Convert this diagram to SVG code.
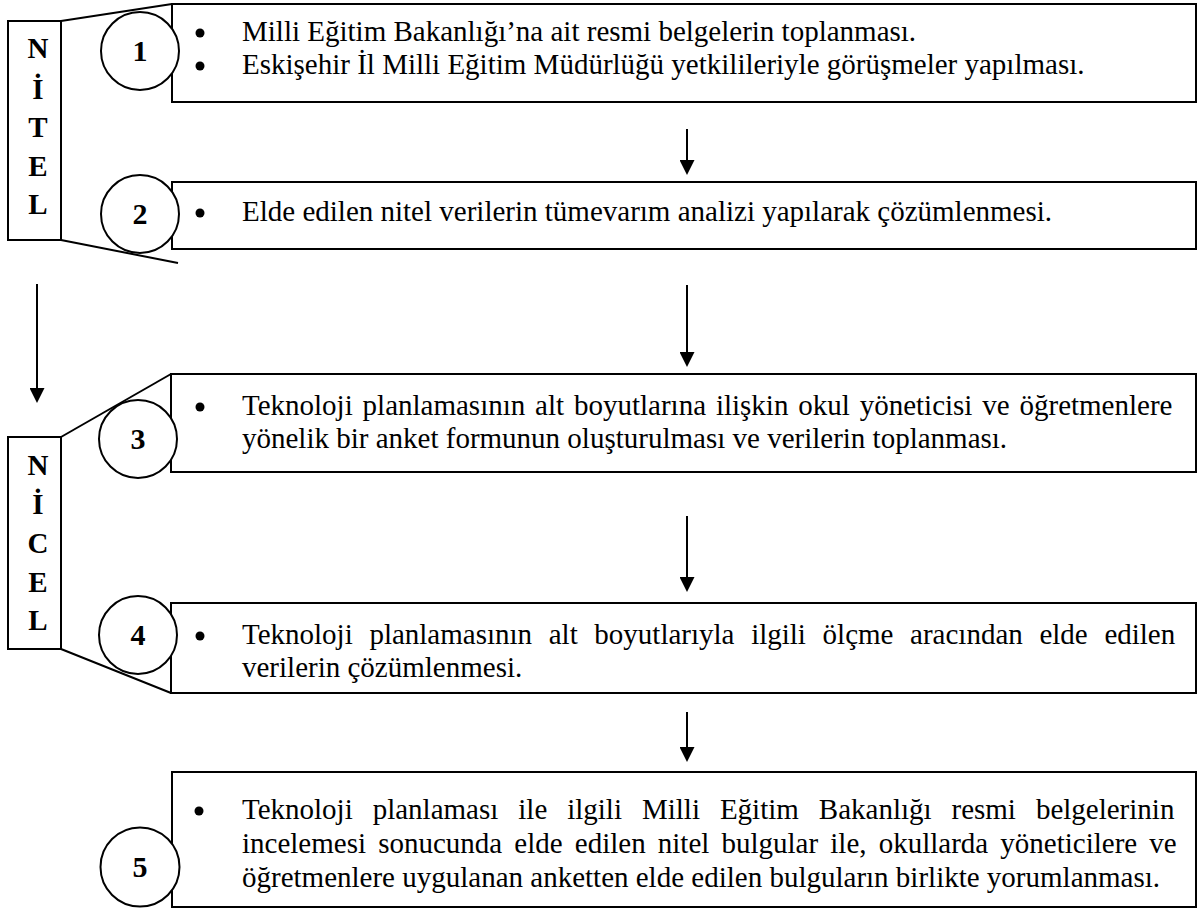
<svg xmlns="http://www.w3.org/2000/svg" width="1200" height="910" viewBox="0 0 1200 910">
<defs>
<style>
.box{fill:#fff;stroke:#000;stroke-width:2}
.circ{fill:#fff;stroke:#000;stroke-width:2}
.ln{fill:none;stroke:#000;stroke-width:2}
.t{font-family:"Liberation Serif","Times New Roman",serif;font-size:29px;fill:#000}
.b{font-family:"Liberation Serif","Times New Roman",serif;font-size:29px;font-weight:bold;fill:#000;text-anchor:middle}
.n{font-family:"Liberation Serif","Times New Roman",serif;font-size:30px;font-weight:bold;fill:#000;text-anchor:middle}
.dot{fill:#000}
</style>
<marker id="ah" viewBox="0 0 15 15" refX="0" refY="7.5" markerWidth="15" markerHeight="15" markerUnits="userSpaceOnUse" orient="auto">
<path d="M0,0 L15,7.5 L0,15 z" fill="#000"/>
</marker>
</defs>
<rect width="1200" height="910" fill="#fff"/>

<g id="connectors">
<line class="ln" x1="61" y1="21" x2="172" y2="4"/>
<line class="ln" x1="61" y1="240" x2="178" y2="263"/>
<line class="ln" x1="61" y1="437" x2="171" y2="374"/>
<line class="ln" x1="61" y1="649" x2="171" y2="693"/>
<line class="ln" x1="687" y1="129" x2="687" y2="160" marker-end="url(#ah)"/>
<line class="ln" x1="687" y1="285" x2="687" y2="352" marker-end="url(#ah)"/>
<line class="ln" x1="687" y1="516" x2="687" y2="577" marker-end="url(#ah)"/>
<line class="ln" x1="687" y1="712" x2="687" y2="747" marker-end="url(#ah)"/>
<line class="ln" x1="37" y1="284" x2="37" y2="388" marker-end="url(#ah)"/>
</g>

<g id="nitel">
<rect class="box" x="8" y="21" width="53" height="219"/>
<text class="b" x="38" y="58">N</text>
<text class="b" x="38" y="99">İ</text>
<text class="b" x="38" y="137">T</text>
<text class="b" x="38" y="176">E</text>
<text class="b" x="38" y="214">L</text>
</g>

<g id="nicel">
<rect class="box" x="8" y="437" width="53" height="212"/>
<text class="b" x="38" y="475">N</text>
<text class="b" x="38" y="514">İ</text>
<text class="b" x="38" y="553">C</text>
<text class="b" x="38" y="592">E</text>
<text class="b" x="38" y="630">L</text>
</g>

<g id="step1">
<rect class="box" x="172" y="4" width="1024" height="98"/>
<circle class="circ" cx="140" cy="51" r="39"/>
<text class="n" x="140" y="61">1</text>
<circle class="dot" cx="200" cy="33" r="4.5"/>
<circle class="dot" cx="200" cy="66" r="4.5"/>
<text class="t" x="242" y="41">Milli Eğitim Bakanlığı’na ait resmi belgelerin toplanması.</text>
<text class="t" x="242" y="74">Eskişehir İl Milli Eğitim Müdürlüğü yetkilileriyle görüşmeler yapılması.</text>
</g>

<g id="step2">
<rect class="box" x="172" y="182" width="1024" height="67"/>
<circle class="circ" cx="140" cy="214" r="39"/>
<text class="n" x="140" y="224">2</text>
<circle class="dot" cx="200" cy="213" r="4.5"/>
<text class="t" x="242" y="221">Elde edilen nitel verilerin tümevarım analizi yapılarak çözümlenmesi.</text>
</g>

<g id="step3">
<rect class="box" x="171" y="374" width="1025" height="98"/>
<circle class="circ" cx="138" cy="439" r="39"/>
<text class="n" x="138" y="449">3</text>
<circle class="dot" cx="200" cy="407" r="4.5"/>
<text class="t" x="242" y="415" word-spacing="2.6">Teknoloji planlamasının alt boyutlarına ilişkin okul yöneticisi ve öğretmenlere</text>
<text class="t" x="242" y="448">yönelik bir anket formunun oluşturulması ve verilerin toplanması.</text>
</g>

<g id="step4">
<rect class="box" x="171" y="603" width="1025" height="90"/>
<circle class="circ" cx="138" cy="635" r="39"/>
<text class="n" x="138" y="645">4</text>
<circle class="dot" cx="200" cy="636" r="4.5"/>
<text class="t" x="242" y="644" word-spacing="9.4">Teknoloji planlamasının alt boyutlarıyla ilgili ölçme aracından elde edilen</text>
<text class="t" x="242" y="677">verilerin çözümlenmesi.</text>
</g>

<g id="step5">
<rect class="box" x="172" y="772" width="1024" height="135"/>
<circle class="circ" cx="140" cy="867" r="39.5"/>
<text class="n" x="140" y="877">5</text>
<circle class="dot" cx="199" cy="811" r="4.5"/>
<text class="t" x="242" y="819" word-spacing="12.7">Teknoloji planlaması ile ilgili Milli Eğitim Bakanlığı resmi belgelerinin</text>
<text class="t" x="242" y="853" word-spacing="4.9">incelemesi sonucunda elde edilen nitel bulgular ile, okullarda yöneticilere ve</text>
<text class="t" x="242" y="887">öğretmenlere uygulanan anketten elde edilen bulguların birlikte yorumlanması.</text>
</g>
</svg>
